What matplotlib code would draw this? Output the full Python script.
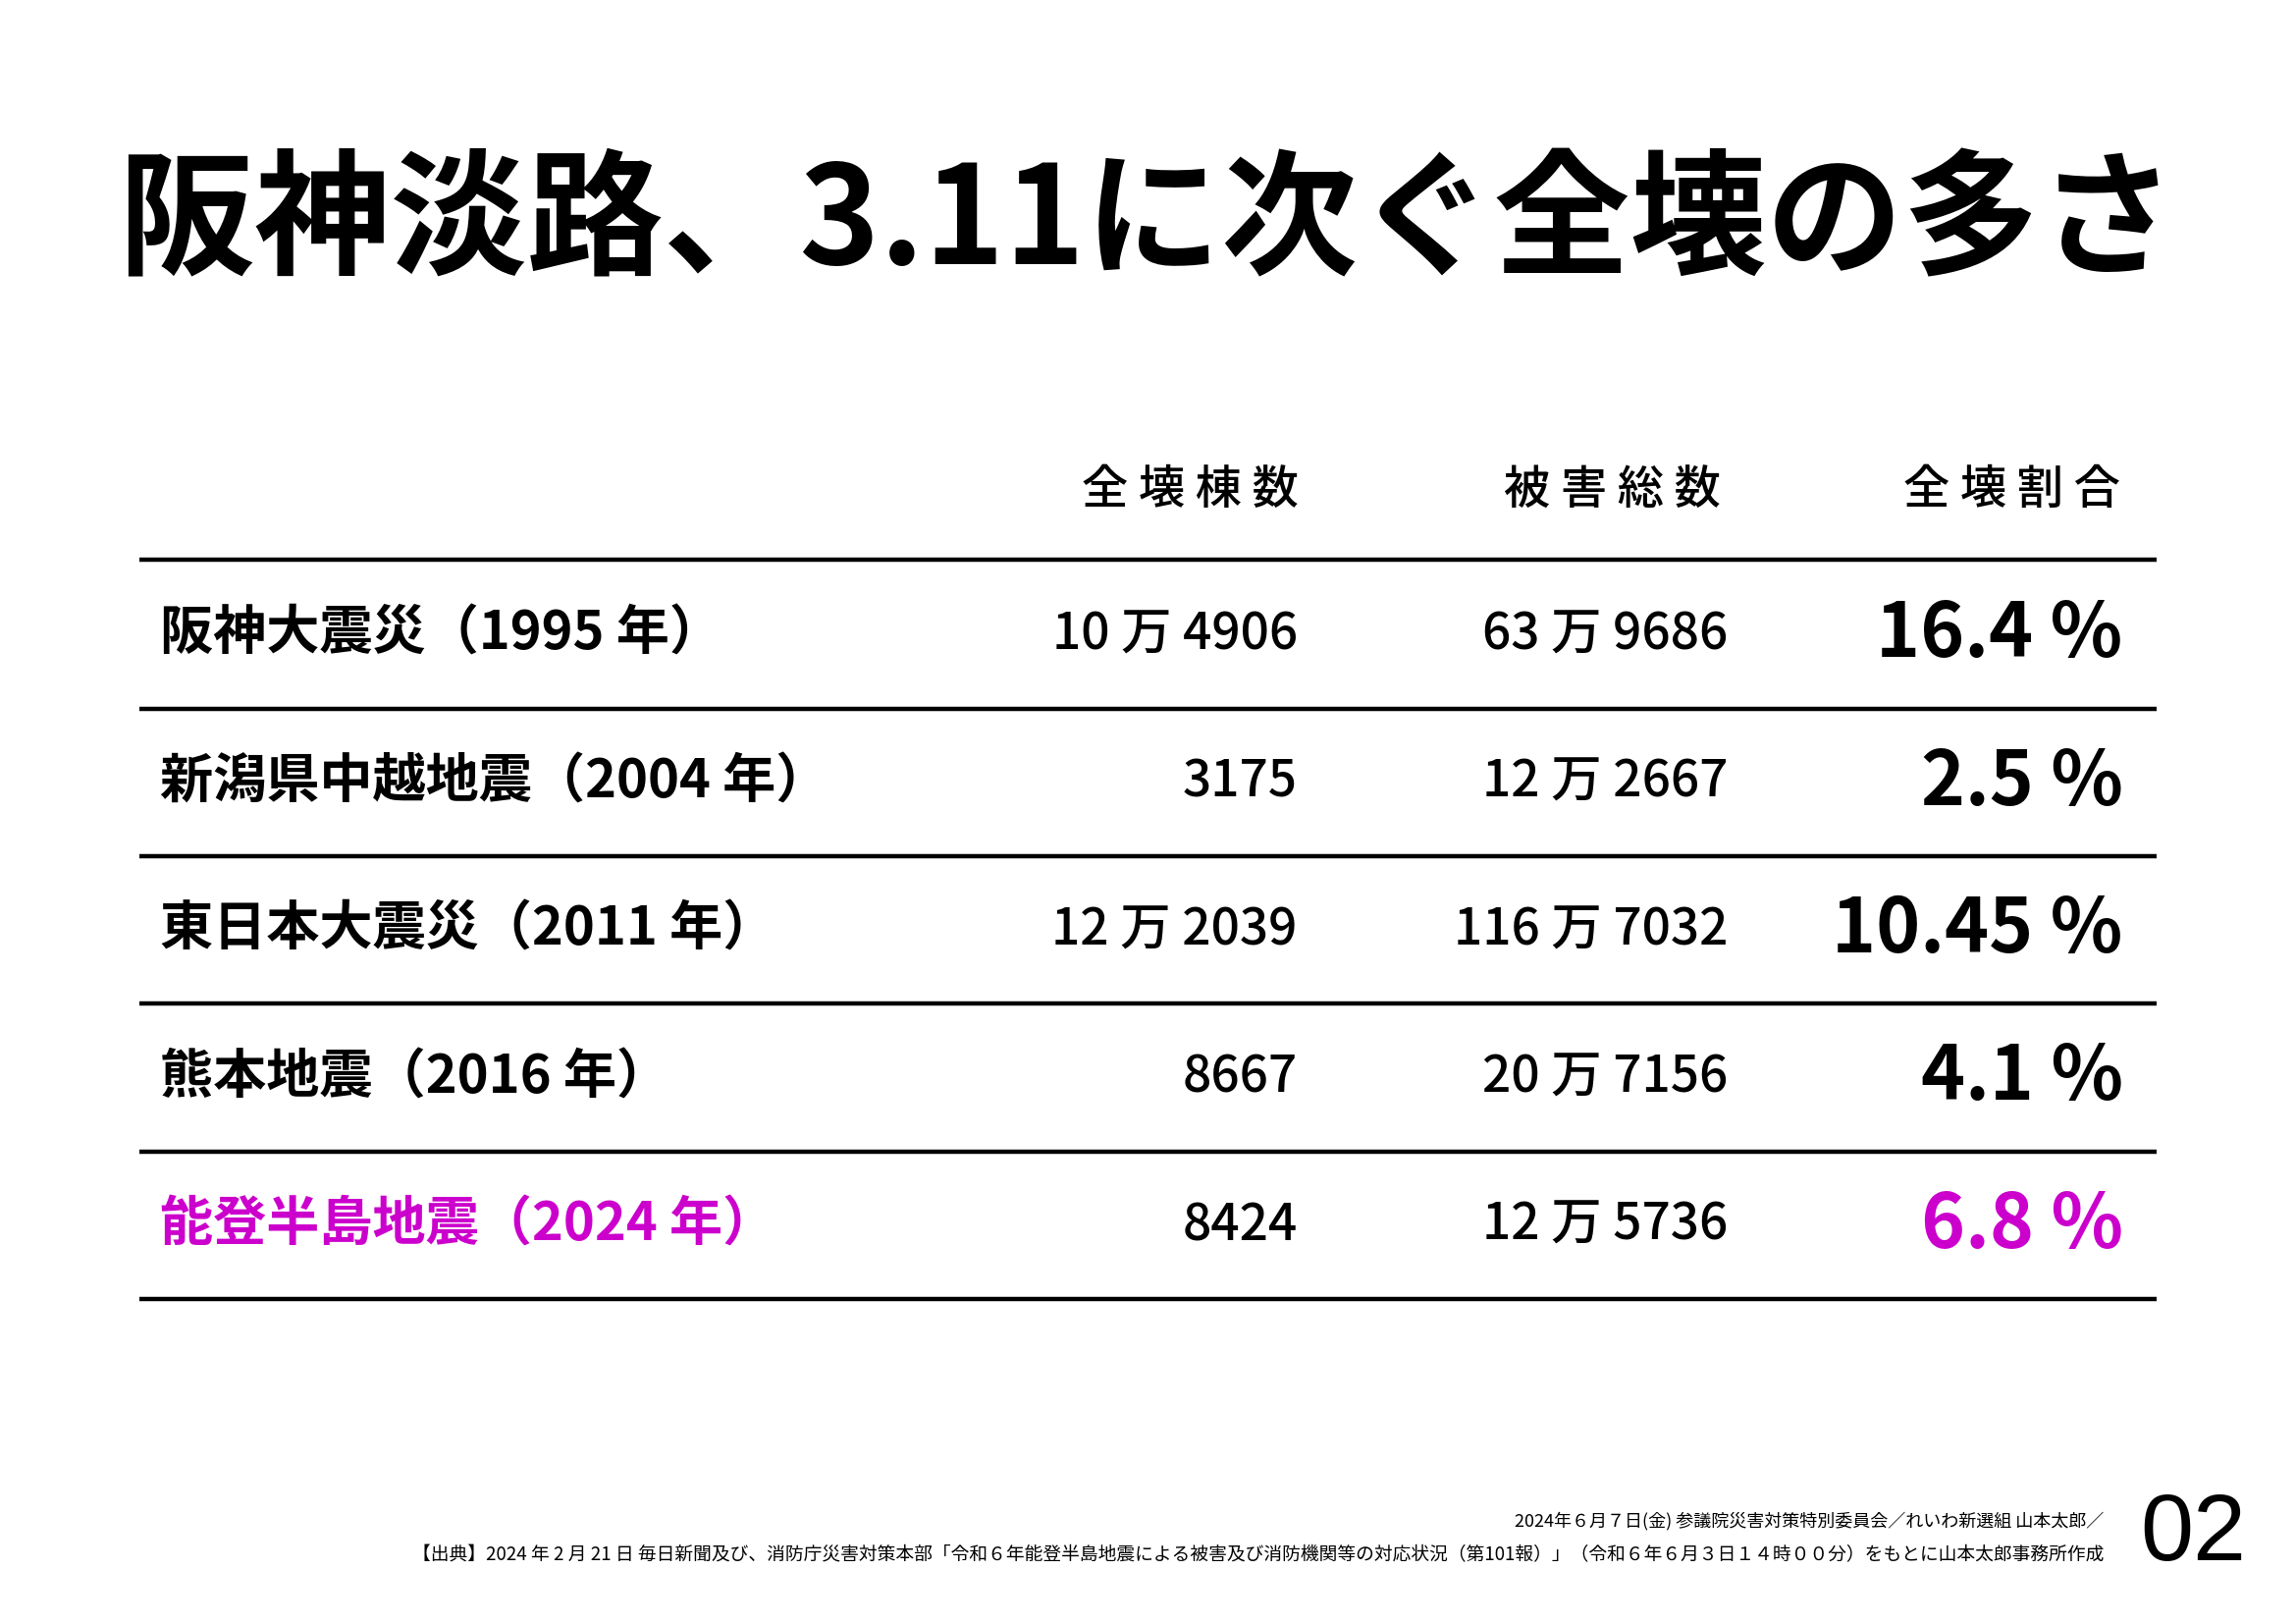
import matplotlib
matplotlib.use("Agg")
import matplotlib.pyplot as plt

plt.rcParams["font.family"] = ["Noto Sans CJK JP", "DejaVu Sans"]

title = "阪神淡路、3.11に次ぐ全壊の多さ"
headers = ["全 壊 棟 数", "被 害 総 数", "全 壊 割 合"]
disasters = ["阪神大震災（1995 年）", "新潟県中越地震（2004 年）", "東日本大震災（2011 年）",
             "熊本地震（2016 年）", "能登半島地震（2024 年）"]
total_collapse = ["10 万 4906", "3175", "12 万 2039", "8667", "8424"]
total_damage = ["63 万 9686", "12 万 2667", "116 万 7032", "20 万 7156", "12 万 5736"]
ratio = ["16.4 %", "2.5 %", "10.45 %", "4.1 %", "6.8 %"]
highlight = [False, False, False, False, True]
footer1 = "2024年６月７日(金) 参議院災害対策特別委員会／れいわ新選組 山本太郎／"
footer2 = ("【出典】2024 年 2 月 21 日 毎日新聞及び、消防庁災害対策本部「令和６年能登半島地震による被害及び"
           "消防機関等の対応状況（第101報）」（令和６年６月３日１４時００分）をもとに山本太郎事務所作成")
page = "02"

W, H = 1552, 1100
fig = plt.figure(figsize=(23.39, 16.54), dpi=100)
ax = fig.add_axes([0, 0, 1, 1])
ax.set_xlim(0, W)
ax.set_ylim(H, 0)
ax.axis("off")

magenta = "#cc00cc"

ax.text(775, 152, title, ha="center", va="center", fontsize=100, fontweight="bold")

for x, h in zip([878, 1163, 1433], headers):
    ax.text(x, 332, h, ha="right", va="center", fontsize=34, fontweight="medium")

row_y = [430, 530, 630, 730, 830]
for y in [379] + [v + 50 for v in row_y]:
    ax.plot([94, 1458], [y, y], color="black", lw=3.2, solid_capstyle="butt")

for i, y in enumerate(row_y):
    c = magenta if highlight[i] else "black"
    ax.text(108, y, disasters[i], ha="left", va="center", fontsize=39, fontweight="bold", color=c)
    ax.text(877, y, total_collapse[i], ha="right", va="center", fontsize=37, fontweight="medium")
    ax.text(1168, y, total_damage[i], ha="right", va="center", fontsize=37, fontweight="medium")
    ax.text(1435, y, ratio[i], ha="right", va="center", fontsize=55, fontweight="bold", color=c)

ax.text(1422, 1030, footer1, ha="right", va="center", fontsize=13)
ax.text(1422, 1053, footer2, ha="right", va="center", fontsize=13.5)
ax.text(1518, 1040, page, ha="right", va="center", fontsize=70,
        family=["Liberation Sans", "DejaVu Sans"])

fig.savefig("out.png", dpi=100, facecolor="white")
